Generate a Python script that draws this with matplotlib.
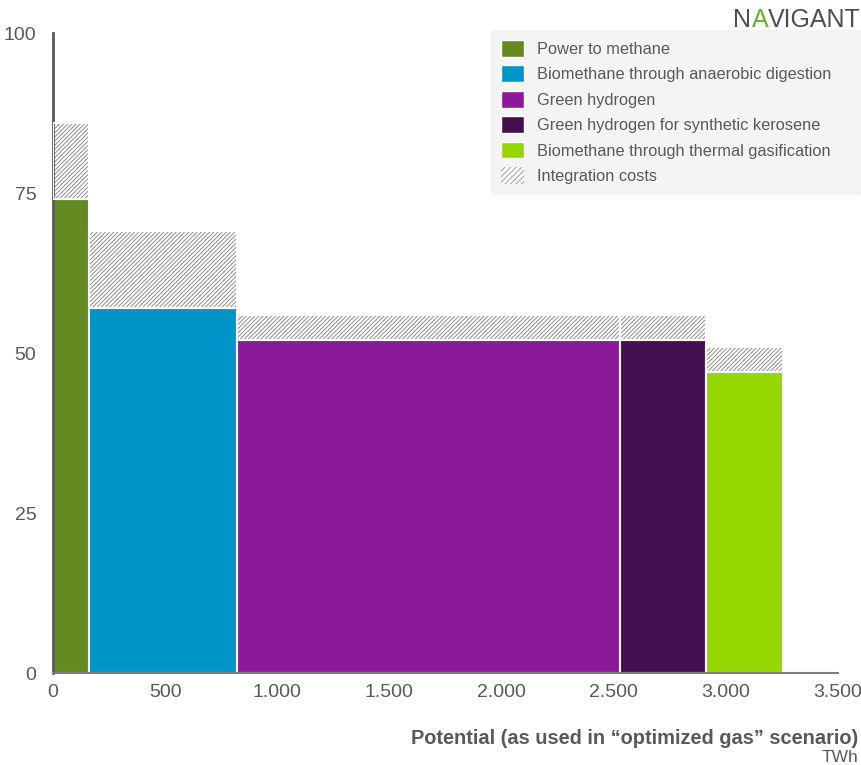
import matplotlib
matplotlib.use("Agg")
import matplotlib.pyplot as plt
from matplotlib.patches import Patch

plt.rcParams['font.family'] = ['Liberation Sans', 'DejaVu Sans']
plt.rcParams['hatch.linewidth'] = 0.7
plt.rcParams['hatch.color'] = '#8c8c8c'

categories = ["Power to methane", "Biomethane through anaerobic digestion",
              "Green hydrogen", "Green hydrogen for synthetic kerosene",
              "Biomethane through thermal gasification"]
potential_twh = [160, 660, 1710, 380, 345]
cost = [74, 57, 52, 52, 47]
integration_cost = [12, 12, 4, 4, 4]
colors = ["#64891e", "#0095c8", "#8a1a99", "#430f4e", "#96d600"]
xticks = [0, 500, 1000, 1500, 2000, 2500, 3000, 3500]
xticklabels = ["0", "500", "1.000", "1.500", "2.000", "2.500", "3.000", "3.500"]
yticks = [0, 25, 50, 75, 100]

fig = plt.figure(figsize=(8.61, 7.65), dpi=100)
ax = fig.add_axes([53/861, 1-673/765, (838-53)/861, (673-33)/765])

lefts = []
acc = 0
for w in potential_twh:
    lefts.append(acc)
    acc += w

ax.bar(lefts, cost, width=potential_twh, align='edge', color=colors,
       edgecolor='white', linewidth=1.5, zorder=2)
ax.bar(lefts, integration_cost, width=potential_twh, bottom=cost, align='edge',
       facecolor='white', edgecolor='#8c8c8c', hatch='////////', linewidth=0, zorder=2)
ax.bar(lefts, integration_cost, width=potential_twh, bottom=cost, align='edge',
       facecolor='none', edgecolor='white', linewidth=1.5, zorder=3)

ax.set_xlim(0, 3500)
ax.set_ylim(0, 100)
ax.set_xticks(xticks)
ax.set_xticklabels(xticklabels)
ax.set_yticks(yticks)
ax.tick_params(axis='both', length=0, labelsize=14, labelcolor='#595959')
ax.tick_params(axis='x', pad=8)
ax.tick_params(axis='y', pad=12)
for s in ['top', 'right']:
    ax.spines[s].set_visible(False)
ax.spines['left'].set_color('#595959')
ax.spines['left'].set_linewidth(2)
ax.spines['bottom'].set_color('#7f7f7f')
ax.spines['bottom'].set_linewidth(1.5)

handles = [Patch(facecolor=c, edgecolor='white', label=l) for c, l in zip(colors, categories)]
handles.append(Patch(facecolor='white', edgecolor='#9a9a9a', hatch='//////', linewidth=0, label='Integration costs'))
leg = fig.legend(handles=handles, loc='upper left',
                 bbox_to_anchor=(491/861, 1-192/765, 370/861, 162/765), mode='expand',
                 frameon=True, fancybox=False, fontsize=11.8, labelcolor='#595959',
                 handlelength=1.4, handleheight=1.2, handletextpad=0.8,
                 labelspacing=0.52, borderpad=0.6, borderaxespad=0)
leg.get_frame().set_facecolor('#f2f2f2')
leg.get_frame().set_edgecolor('#f2f2f2')

fig.text(858/861, 1-738/765, "Potential (as used in \u201coptimized gas\u201d scenario)",
         ha='right', va='center', fontsize=14.4, fontweight='bold', color='#595959')
fig.text(858/861, 1-758/765, "TWh", ha='right', va='center', fontsize=12.5, color='#595959')

# logo
fig.text(733/861, 1-20/765, "N", ha='left', va='center', fontsize=18, color='#4a4f55')
fig.text(752/861, 1-20/765, "A", ha='left', va='center', fontsize=18, color='#6ab023')
fig.text(768/861, 1-20/765, "VIGANT", ha='left', va='center', fontsize=18, color='#4a4f55')

fig.savefig("out.png", dpi=100)
